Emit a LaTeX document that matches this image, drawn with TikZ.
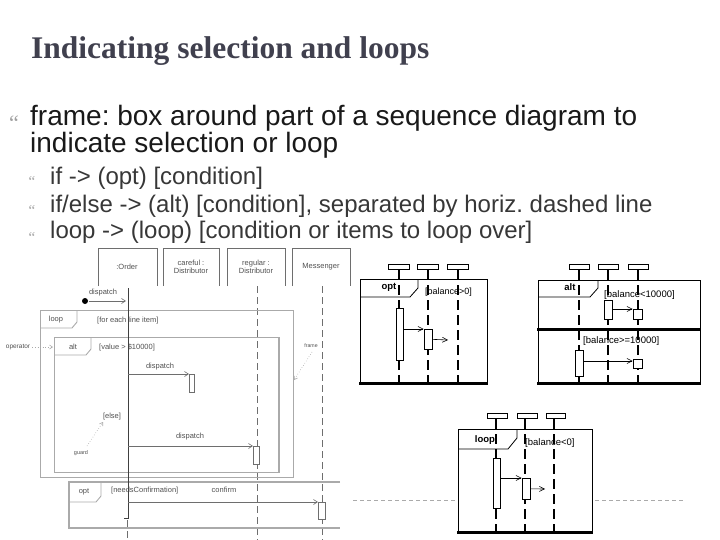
\documentclass[tikz,border=0pt]{standalone}
\usepackage{fontspec}
\setmainfont{Liberation Sans}
\newfontfamily\serifont{Liberation Serif}
\usetikzlibrary{arrows.meta}
\frenchspacing
\definecolor{titlecol}{RGB}{64,64,78}
\definecolor{subcol}{RGB}{55,55,55}
\definecolor{bulcol}{RGB}{160,160,160}
\definecolor{lgray}{RGB}{170,170,170}
\definecolor{mgray}{RGB}{110,110,110}
\definecolor{tgray}{RGB}{80,80,80}
\tikzset{
  txt/.style={anchor=base west, inner sep=0pt},
  bul/.style={anchor=base, inner sep=0pt, text=bulcol},
  gtxt/.style={inner sep=0pt, text=tgray, font=\fontsize{7.5}{8.5}\selectfont, align=center},
  gframe/.style={draw=lgray, line width=0.9pt},
  ghead/.style={draw=mgray, line width=0.7pt},
  gline/.style={draw=mgray, line width=0.8pt, dash pattern=on 7pt off 4pt},
  gmsg/.style={draw=mgray, line width=0.6pt, -{Straight Barb[length=4pt,width=5pt]}},
  gnote/.style={draw=lgray, line width=0.6pt, dotted, -{Straight Barb[length=3pt,width=4pt]}},
  gact/.style={draw=mgray, fill=white, line width=0.6pt},
  bframe/.style={draw=black, line width=0.8pt},
  bbottom/.style={draw=black, line width=3pt},
  bhead/.style={draw=black, fill=white, line width=0.8pt},
  blife/.style={draw=black, line width=2.8pt, dash pattern=on 10pt off 5pt},
  bact/.style={draw=black, fill=white, line width=0.7pt},
  bmsg/.style={draw=black, line width=0.6pt, -{Straight Barb[length=5pt,width=5pt]}},
  blabel/.style={inner sep=0pt, font=\fontsize{9.5}{10}\selectfont\bfseries},
  bcond/.style={inner sep=0pt, anchor=west, font=\fontsize{9.5}{11}\selectfont},
}
\begin{document}
\begin{tikzpicture}[x=1pt,y=-1pt]
\useasboundingbox (0,0) rectangle (720,540);
% ---------- title and bullets ----------
\node[txt, text=titlecol, font=\serifont\bfseries\fontsize{31.5}{34}\selectfont] (title) at (31,59) {Indicating selection and loops};
\node[bul, font=\serifont\fontsize{22}{24}\selectfont] (b1) at (14,131) {“};
\node[txt, text=black!90, font=\fontsize{28}{30}\selectfont] (l1) at (30,126) {frame: box around part of a sequence diagram to};
\node[txt, text=black!90, font=\fontsize{28}{30}\selectfont] (l2) at (30,153) {indicate selection or loop};
\node[bul, font=\serifont\fontsize{15}{17}\selectfont] (b2) at (32,187) {“};
\node[bul, font=\serifont\fontsize{15}{17}\selectfont] (b3) at (32,215) {“};
\node[bul, font=\serifont\fontsize{15}{17}\selectfont] (b4) at (32,242) {“};
\node[txt, text=subcol, font=\fontsize{24}{26}\selectfont] (s1) at (50,185) {if -> (opt) [condition]};
\node[txt, text=subcol, font=\fontsize{24}{26}\selectfont] (s2) at (50,212) {if/else -> (alt) [condition], separated by horiz. dashed line};
\node[txt, text=subcol, font=\fontsize{24}{26}\selectfont] (s3) at (50,239) {loop -> (loop) [condition or items to loop over]};

% ---------- left (faded) diagram ----------
% heads
\draw[ghead] (98,286) -- (98,248) -- (157,248) -- (157,286);
\draw[ghead] (163,286) -- (163,248) -- (219,248) -- (219,286);
\draw[ghead] (227,286) -- (227,248) -- (285,248) -- (285,286);
\draw[ghead] (292,286) -- (292,248) -- (350,248) -- (350,286);
\node[gtxt] (h1) at (127,267) {:Order};
\node[gtxt] (h2) at (191,267) {careful :\\Distributor};
\node[gtxt] (h3) at (256,267) {regular :\\Distributor};
\node[gtxt] (h4) at (321,267) {Messenger};
% lifelines
\draw[gline] (257,286) -- (257,540);
\draw[gline] (322,286) -- (322,540);
% loop frame
\draw[gframe] (40,310) rectangle (293,477);
\draw[gframe] (40,328) -- (72,328) -- (77,322) -- (77,310);
\node[gtxt] (lp) at (56,320) {loop};
\node[gtxt, anchor=west] (lpc) at (97,321) {[for each line item]};
% alt frame
\draw[gframe] (54,337) rectangle (279,472);
\draw[draw=lgray, line width=1.6pt] (279,337) -- (279,472);
\draw[gframe] (54,355) -- (86,355) -- (91,349) -- (91,337);
\node[gtxt] (alt) at (73,347) {alt};
\node[gtxt, anchor=west] (altc) at (99,348) {[value > \$10000]};
% opt frame
\draw[draw=lgray, line width=1.3pt] (340,482) -- (69,482) -- (69,528) -- (340,528);
\draw[gframe] (69,502) -- (96,502) -- (101,496) -- (101,482);
\node[gtxt] (opt) at (84,492) {opt};
\node[gtxt, anchor=west] (optc) at (111,491) {[needsConfirmation]};
% order lifeline
\coordinate (otop) at (128,288);
\coordinate (obot) at (128,518);
\draw[draw=black!75, line width=0.9pt] (otop) -- (obot) -- (124,518);
\draw[gline] (127,520) -- (127,540);
% found message
\fill[black] (85,301) circle (3);
\coordinate (d0) at (126,301);
\draw[gmsg] (89,301) -- (d0);
\node[gtxt] (d0l) at (103,293) {dispatch};
% dispatch 1
\node[gact, minimum width=5pt, minimum height=18pt, inner sep=0pt, anchor=north west] (a1) at (189,374) {};
\draw[gmsg] (128,374) -- (a1.north west);
\node[gtxt] (d1l) at (160,367) {dispatch};
% dispatch 2
\node[gact, minimum width=6pt, minimum height=18pt, inner sep=0pt, anchor=north west] (a2) at (253,446) {};
\draw[gmsg] (128,446) -- (a2.north west);
\node[gtxt] (d2l) at (190,437) {dispatch};
% confirm
\node[gact, minimum width=7pt, minimum height=17pt, inner sep=0pt, anchor=north west] (a3) at (318,502) {};
\draw[gmsg] (128,502) -- (a3.north west);
\node[gtxt] (cl) at (224,490) {confirm};
% annotations
\node[gtxt, font=\fontsize{6.5}{7}\selectfont] (opn) at (18,347) {operator};
\coordinate (opt1) at (53,347);
\draw[gnote] (opn.east) ++(2,0) -- (opt1);
\node[gtxt] (els) at (112,417) {[else]};
\node[gtxt, font=\fontsize{5.5}{6}\selectfont] (grd) at (81,453) {guard};
\coordinate (g1) at (103,422);
\draw[gnote] (87,446) -- (g1);
\node[gtxt, font=\fontsize{5.2}{6}\selectfont] (frm) at (311,346) {frame};
\coordinate (f1) at (294,380);
\draw[gnote] (312,352) -- (f1);

% gray dashed line
\draw[draw=lgray, line width=0.8pt, dash pattern=on 4pt off 3pt] (353,500) -- (457,500);
\draw[draw=lgray, line width=0.8pt, dash pattern=on 4pt off 3pt] (595,500) -- (685,500);

% ---------- opt diagram ----------
\draw[bframe] (360,383) -- (360,279) -- (487,279) -- (487,383);
\draw[bbottom] (359,383) -- (488,383);
\draw[bframe] (360,297) -- (410,297) -- (418,288) -- (418,279);
\node[blabel] (optl) at (389,287) {opt};
\node[bcond, font=\fontsize{9}{10}\selectfont] (optc2) at (425,292) {[balance>0]};
\draw[blife] (399,270) -- (399,382);
\draw[blife] (428,270) -- (428,382);
\draw[blife] (458,270) -- (458,382);
\node[bhead, minimum width=21pt, minimum height=5pt, inner sep=0pt] (oh1) at (399,267) {};
\node[bhead, minimum width=21pt, minimum height=5pt, inner sep=0pt] (oh2) at (428,267) {};
\node[bhead, minimum width=21pt, minimum height=5pt, inner sep=0pt] (oh3) at (458,267) {};
\node[bact, minimum width=7pt, minimum height=52pt, inner sep=0pt, anchor=north] (oa1) at (399.5,308) {};
\node[bact, minimum width=8pt, minimum height=20pt, inner sep=0pt, anchor=north] (oa2) at (428,329) {};
\draw[bmsg] (oa1.east |- oa2.north west) -- (oa2.north west);
\coordinate (oe) at (448,340);
\draw[bmsg] (oa2.east) -- (oe);

% ---------- alt diagram ----------
\draw[bframe] (538,383) -- (538,280) -- (700,280) -- (700,383);
\draw[bbottom] (537,383) -- (701,383);
\draw[bbottom] (537,329) -- (701,329);
\draw[bframe] (538,297) -- (590,297) -- (598,288) -- (598,280);
\node[blabel] (altl) at (570,287) {alt};
\node[bcond] (altc1) at (604,295) {[balance<10000]};
\node[bcond] (altc2) at (583,341) {[balance>=10000]};
\draw[blife] (579,270) -- (579,382);
\draw[blife] (608,270) -- (608,382);
\draw[blife] (638,270) -- (638,382);
\node[bhead, minimum width=20pt, minimum height=5pt, inner sep=0pt] (ah1) at (579,267) {};
\node[bhead, minimum width=20pt, minimum height=5pt, inner sep=0pt] (ah2) at (608,267) {};
\node[bhead, minimum width=20pt, minimum height=5pt, inner sep=0pt] (ah3) at (638,267) {};
\node[bact, minimum width=8pt, minimum height=19pt, inner sep=0pt, anchor=north] (aa1) at (608,300) {};
\node[bact, minimum width=9pt, minimum height=10pt, inner sep=0pt, anchor=north] (aa2) at (637.5,309) {};
\draw[bmsg] (aa1.east |- aa2.north west) -- (aa2.north west);
\node[bact, minimum width=8pt, minimum height=26pt, inner sep=0pt, anchor=north] (aa3) at (579,350) {};
\node[bact, minimum width=9pt, minimum height=9pt, inner sep=0pt, anchor=north] (aa4) at (637.5,359) {};
\draw[bmsg] (aa3.east |- 0,361) -- (aa4.west |- 0,361);

% ---------- loop diagram ----------
\draw[bframe] (458,532) -- (458,429) -- (592,429) -- (592,532);
\draw[bbottom] (457,532) -- (593,532);
\draw[bframe] (458,449) -- (508,449) -- (517,438) -- (517,429);
\node[blabel] (loopl) at (485,440) {loop};
\node[bcond] (loopc) at (525,443) {[balance<0]};
\draw[blife] (496,419) -- (496,531);
\draw[blife] (525,419) -- (525,531);
\draw[blife] (554,419) -- (554,531);
\node[bhead, minimum width=20pt, minimum height=5pt, inner sep=0pt] (lh1) at (497,416) {};
\node[bhead, minimum width=20pt, minimum height=5pt, inner sep=0pt] (lh2) at (527,416) {};
\node[bhead, minimum width=19pt, minimum height=5pt, inner sep=0pt] (lh3) at (555.5,416) {};
\node[bact, minimum width=7pt, minimum height=50pt, inner sep=0pt, anchor=north] (la1) at (496.5,458) {};
\node[bact, minimum width=8pt, minimum height=21pt, inner sep=0pt, anchor=north] (la2) at (526,478) {};
\draw[bmsg] (la1.east |- la2.north west) -- (la2.north west);
\coordinate (le) at (545,489);
\draw[bmsg] (la2.east) -- (le);
\end{tikzpicture}
\end{document}
